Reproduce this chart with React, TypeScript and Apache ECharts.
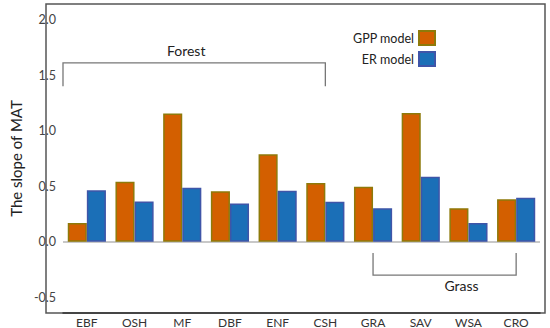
import React, { useEffect, useRef } from "react";
import * as echarts from "echarts";

const categories = ["EBF", "OSH", "MF", "DBF", "ENF", "CSH", "GRA", "SAV", "WSA", "CRO"];
const gppValues = [0.17, 0.54, 1.155, 0.456, 0.789, 0.53, 0.495, 1.16, 0.303, 0.384];
const erValues = [0.465, 0.363, 0.486, 0.345, 0.459, 0.36, 0.303, 0.585, 0.17, 0.396];
const seriesNames = ["GPP model", "ER model"];
const groupLabels = ["Forest", "Grass"];

const FONT = "Lato";

export default function App() {
  const ref = useRef<HTMLDivElement>(null);
  useEffect(() => {
    document.body.style.margin = "0";
    if (!ref.current) return;
    const chart = echarts.init(ref.current, null, { renderer: "svg" });
    const option: any = {
      animation: false,
      textStyle: { fontFamily: FONT },
      grid: { left: 51, right: 10, top: 4, bottom: 15 },
      legend: {
        data: seriesNames,
        orient: "vertical",
        right: 109,
        top: 25,
        align: "right",
        icon: "rect",
        itemWidth: 16,
        itemHeight: 14,
        itemGap: 5,
        textStyle: { fontFamily: FONT, fontSize: 12.5, color: "#222" },
      },
      xAxis: {
        type: "category",
        data: categories,
        axisLine: { onZero: false, lineStyle: { color: "#333", width: 1.5 } },
        axisTick: { show: false },
        axisLabel: { fontFamily: FONT, fontSize: 12, color: "#333", margin: 3 },
      },
      yAxis: {
        type: "value",
        min: -0.64,
        max: 2.14,
        minInterval: 0.5,
        maxInterval: 0.5,
        name: "The slope of MAT",
        nameLocation: "middle",
        nameGap: 38,
        nameTextStyle: { fontFamily: FONT, fontSize: 15, color: "#222" },
        splitLine: { show: false },
        axisLine: { show: false },
        axisTick: { show: false },
        axisLabel: {
          fontFamily: FONT,
          fontSize: 12.5,
          color: "#444",
          margin: 7,
          showMinLabel: false,
          showMaxLabel: false,
          formatter: (v: number) =>
            Math.abs(v * 2 - Math.round(v * 2)) < 1e-6 ? v.toFixed(1) : "",
        },
      },
      series: [
        {
          name: seriesNames[0],
          type: "bar",
          data: gppValues,
          barGap: "0%",
          barCategoryGap: "20%",
          itemStyle: { color: "#D35F00", borderColor: "#8E7A0A", borderWidth: 1.5 },
          markLine: {
            silent: true,
            symbol: "none",
            label: { show: false },
            lineStyle: { color: "#c8c8c8", width: 2, type: "solid" },
            data: [{ yAxis: 0 }],
            z: 1,
          },
        },
        {
          name: seriesNames[1],
          type: "bar",
          data: erValues,
          itemStyle: { color: "#1B6FB7", borderColor: "#3F55A8", borderWidth: 1.5 },
        },
      ],
    };
    chart.setOption(option);

    const px = (i: number, v: number) => chart.convertToPixel({ gridIndex: 0 }, [i, v]) as number[];
    const g0 = (chart as any).getModel().getComponent("grid", 0).coordinateSystem.getRect();
    const forestY = px(0, 1.61)[1];
    const forestDrop = px(0, 1.4)[1];
    const forestL = g0.x;
    const forestR = px(5, 0)[0];
    const grassY = px(0, -0.3)[1];
    const grassTop = px(0, -0.1)[1];
    const grassL = px(6, 0)[0];
    const grassR = px(9, 0)[0];
    const lineStyle = { stroke: "#777", lineWidth: 1.3, fill: "none" };
    chart.setOption({
      graphic: [
        {
          type: "rect",
          shape: { x: 46, y: 4, width: 499, height: 309 },
          style: { fill: "none", stroke: "#555", lineWidth: 1.5 },
          silent: true,
        },
        {
          type: "polyline",
          shape: { points: [[forestL, forestDrop], [forestL, forestY], [forestR, forestY], [forestR, forestDrop]] },
          style: lineStyle,
          silent: true,
        },
        {
          type: "text",
          x: (forestL + forestR) / 2 - 8,
          y: forestY - 12,
          style: { text: groupLabels[0], fontFamily: FONT, fontSize: 14, fill: "#222", align: "center", verticalAlign: "middle" },
        },
        {
          type: "polyline",
          shape: { points: [[grassL, grassTop], [grassL, grassY], [grassR, grassY], [grassR, grassTop]] },
          style: lineStyle,
          silent: true,
        },
        {
          type: "text",
          x: (grassL + grassR) / 2 + 17,
          y: grassY + 10,
          style: { text: groupLabels[1], fontFamily: FONT, fontSize: 14, fill: "#222", align: "center", verticalAlign: "middle" },
        },
      ],
    });
    return () => chart.dispose();
  }, []);
  return <div ref={ref} style={{ width: 550, height: 328 }} />;
}
